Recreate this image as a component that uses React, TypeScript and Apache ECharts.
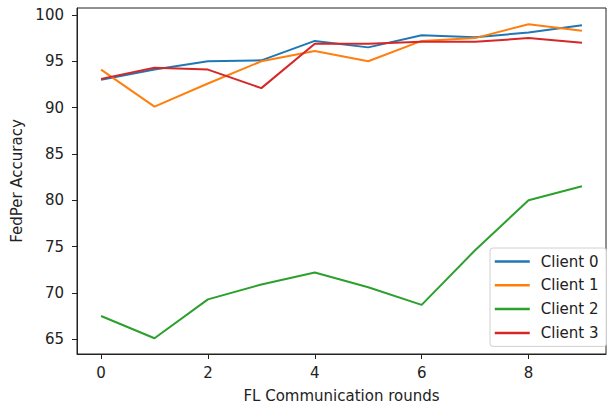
import React, { useEffect, useRef } from "react";
import * as echarts from "echarts";

const rounds = [0, 1, 2, 3, 4, 5, 6, 7, 8, 9];
const client0 = [93.0, 94.1, 95.0, 95.1, 97.2, 96.5, 97.8, 97.6, 98.1, 98.9];
const client1 = [94.1, 90.1, 92.6, 95.0, 96.1, 95.0, 97.2, 97.5, 99.0, 98.3];
const client2 = [67.5, 65.1, 69.3, 70.9, 72.2, 70.6, 68.7, 74.6, 80.0, 81.5];
const client3 = [93.1, 94.3, 94.1, 92.1, 96.9, 96.9, 97.1, 97.1, 97.5, 97.0];
const seriesNames = ["Client 0", "Client 1", "Client 2", "Client 3"];
const xTicks = [0, 2, 4, 6, 8];
const yTicks = [65, 70, 75, 80, 85, 90, 95, 100];

const colors = ["#1f77b4", "#ff7f0e", "#2ca02c", "#d62728"];
const FONT = "DejaVu Sans";
const FS = 15;

export default function App() {
  const ref = useRef<HTMLDivElement>(null);
  useEffect(() => {
    if (!ref.current) return;
    const chart = echarts.init(ref.current, null, { renderer: "svg" });
    const all = [client0, client1, client2, client3];
    chart.setOption({
      animation: false,
      textStyle: { fontFamily: FONT },
      grid: {
        left: 77,
        right: 5,
        top: 8,
        bottom: 50.5,
        show: true,
        borderColor: "#222",
        borderWidth: 1,
        backgroundColor: "transparent",
      },
      legend: {
        orient: "vertical",
        right: 4.5,
        top: 248,
        data: seriesNames,
        itemWidth: 35,
        itemHeight: 14,
        itemGap: 8.8,
        padding: [6, 8, 6, 3.5],
        backgroundColor: "rgba(255,255,255,0.85)",
        borderColor: "#d0d0d0",
        borderWidth: 1,
        borderRadius: 3,
        itemStyle: { opacity: 0, borderWidth: 0 },
        lineStyle: { width: 2.5 },
        textStyle: {
          fontFamily: FONT,
          fontSize: FS,
          color: "#222",
          padding: [0, 0, 0, 6],
        },
      },
      xAxis: {
        type: "value",
        min: -0.45,
        max: 9.45,
        name: "FL Communication rounds",
        nameLocation: "middle",
        nameGap: 34,
        nameTextStyle: { fontFamily: FONT, fontSize: FS, color: "#222" },
        axisLine: { show: true, onZero: false, lineStyle: { color: "#222", width: 1 } },
        axisTick: {
          show: true,
          length: 5,
          lineStyle: { color: "#222" },
          customValues: xTicks,
        },
        axisLabel: {
          fontFamily: FONT,
          fontSize: FS,
          color: "#222",
          margin: 11,
          customValues: xTicks,
        },
        splitLine: { show: false },
      },
      yAxis: {
        type: "value",
        min: 63.4,
        max: 100.75,
        name: "FedPer Accuracy",
        nameLocation: "middle",
        nameGap: 52,
        nameTextStyle: { fontFamily: FONT, fontSize: FS, color: "#222" },
        axisLine: { show: true, onZero: false, lineStyle: { color: "#222", width: 1 } },
        axisTick: {
          show: true,
          length: 5,
          lineStyle: { color: "#222" },
          customValues: yTicks,
        },
        axisLabel: {
          fontFamily: FONT,
          fontSize: FS,
          color: "#222",
          margin: 13,
          customValues: yTicks,
        },
        splitLine: { show: false },
      },
      series: seriesNames.map((name, i) => ({
        name,
        type: "line",
        data: rounds.map((r, j) => [r, all[i][j]]),
        symbol: "none",
        showSymbol: false,
        color: colors[i],
        lineStyle: { color: colors[i], width: 2 },
        itemStyle: { color: colors[i] },
      })),
    });
    return () => chart.dispose();
  }, []);
  return <div ref={ref} style={{ width: 611, height: 408, position: "absolute", left: 0, top: 0 }} />;
}
